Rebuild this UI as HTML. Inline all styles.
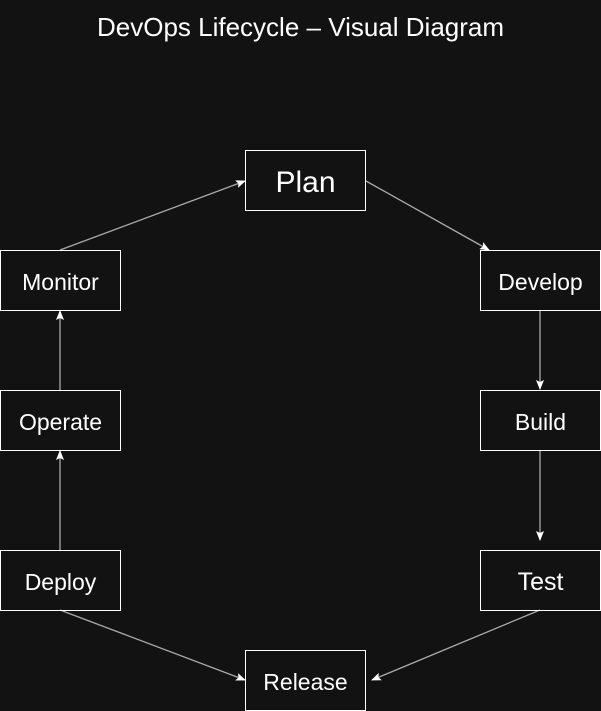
<!DOCTYPE html>
<html><head><style>
html,body{margin:0;padding:0;background:#121212;}
body{width:601px;height:711px;position:relative;overflow:hidden;font-family:"Liberation Sans",sans-serif;}
.t{position:absolute;left:0;width:601px;top:12px;text-align:center;color:#fff;font-size:26px;}
.b{position:absolute;width:119px;height:59px;border:1px solid #fff;box-sizing:content-box;color:#fff;display:flex;align-items:center;justify-content:center;font-size:23px;padding-top:0;}
.b span{position:relative;top:2px;}
</style></head><body>
<div class="t">DevOps Lifecycle – Visual Diagram</div>
<svg width="601" height="711" style="position:absolute;left:0;top:0">
<defs><marker id="a" markerWidth="10" markerHeight="8" refX="9" refY="4" orient="auto" markerUnits="userSpaceOnUse"><path d="M0,0 L10,4 L0,8 L2,4z" fill="#fff"/></marker></defs>
<g stroke="#aaa" stroke-width="1.3" fill="none" marker-end="url(#a)">
<line x1="60" y1="250" x2="245" y2="181"/>
<line x1="366" y1="181" x2="489" y2="250"/>
<line x1="540" y1="311" x2="540" y2="389"/>
<line x1="540" y1="451" x2="540" y2="540"/>
<line x1="540" y1="610" x2="372" y2="680"/>
<line x1="60" y1="610" x2="245" y2="680"/>
<line x1="60" y1="550" x2="60" y2="451"/>
<line x1="60" y1="390" x2="60" y2="311"/>
</g></svg>
<div class="b" style="left:245px;top:150px;font-size:30px"><span>Plan</span></div>
<div class="b" style="left:480px;top:250px"><span>Develop</span></div>
<div class="b" style="left:480px;top:390px"><span>Build</span></div>
<div class="b" style="left:480px;top:550px;font-size:25px"><span>Test</span></div>
<div class="b" style="left:245px;top:650px"><span>Release</span></div>
<div class="b" style="left:0px;top:550px"><span>Deploy</span></div>
<div class="b" style="left:0px;top:390px"><span>Operate</span></div>
<div class="b" style="left:0px;top:250px"><span>Monitor</span></div>
</body></html>
